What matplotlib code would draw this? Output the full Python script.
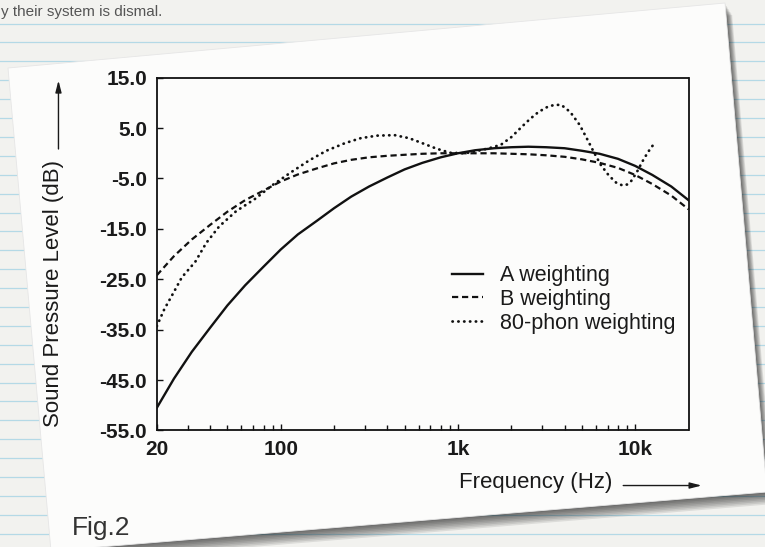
import matplotlib
matplotlib.use("Agg")
import matplotlib.pyplot as plt
from matplotlib.patches import Polygon
from matplotlib.lines import Line2D
from matplotlib.ticker import FixedLocator, FixedFormatter, NullFormatter

plt.rcParams['font.family'] = ['Liberation Sans', 'DejaVu Sans']

# frequencies (Hz) and weighting curves (dB)
freq = [20, 25, 31.5, 40, 50, 63, 80, 100, 125, 160, 200, 250, 315, 400, 500, 630,
        800, 1000, 1250, 1600, 2000, 2500, 3150, 4000, 5000, 6300, 8000, 10000,
        12500, 16000, 20000]
a_weight = [-50.5, -44.7, -39.4, -34.6, -30.2, -26.2, -22.5, -19.1, -16.1, -13.4,
            -10.9, -8.6, -6.6, -4.8, -3.2, -1.9, -0.8, 0.0, 0.6, 1.0, 1.2, 1.3, 1.2,
            1.0, 0.5, -0.1, -1.1, -2.5, -4.3, -6.6, -9.3]
b_weight = [-24.2, -20.4, -17.1, -14.2, -11.6, -9.3, -7.4, -5.6, -4.2, -3.0, -2.0,
            -1.3, -0.8, -0.5, -0.3, -0.1, 0.0, 0.0, 0.0, 0.0, -0.1, -0.2, -0.4, -0.7,
            -1.2, -1.9, -2.9, -4.3, -6.1, -8.4, -11.1]

phon_freq = [20, 22, 24.8, 27.7, 33, 38, 45, 56, 72, 90, 114, 145, 181, 230, 283,
             350, 439, 530, 630, 760, 904, 1100, 1300, 1500, 1750, 2000, 2300, 2550,
             2850, 3200, 3500, 3830, 4300, 4870, 5400, 5850, 6400, 7100, 7800, 8500,
             9000, 9500, 10200, 11000, 11800, 12600]
phon_80 = [-34.3, -31.0, -27.7, -24.6, -21.5, -17.8, -14.5, -11.5, -9.0, -6.3, -3.8,
           -1.4, 0.5, 2.0, 3.0, 3.5, 3.6, 3.0, 2.0, 0.9, 0.1, 0.0, 0.5, 1.0, 1.7, 3.2,
           5.3, 6.8, 8.2, 9.2, 9.6, 9.6, 8.2, 5.6, 2.6, 0.2, -2.3, -4.4, -5.8, -6.4,
           -6.2, -5.5, -3.8, -1.6, 0.2, 1.6]

x_ticks = [20, 100, 1000, 10000]
x_labels = ['20', '100', '1k', '10k']
x_minor = [30, 40, 50, 60, 70, 80, 90, 200, 300, 400, 500, 600, 700, 800, 900,
           2000, 3000, 4000, 5000, 6000, 7000, 8000, 9000]
y_ticks = [15, 5, -5, -15, -25, -35, -45, -55]

fig = plt.figure(figsize=(7.65, 5.47), dpi=100)
fig.patch.set_facecolor('#f2f2ef')
W, H = 765.0, 547.0


def fxy(px, py):
    return (px / W, 1 - py / H)


# notebook paper lines
y = 23.5
while y < H:
    fig.add_artist(Line2D([0, 1], [1 - y / H] * 2, color='#b4d9e6', lw=0.9, zorder=-5))
    y += 18.9

# rotated card with a soft shadow
card = [(8, 68), (725, 3), (767, 492), (51, 551)]
for i in range(8):
    off = 1.5 + i * 1.5
    sh = [fxy(px + off * 0.6, py + off) for px, py in card]
    fig.add_artist(Polygon(sh, closed=True, transform=fig.transFigure,
                           facecolor='black', edgecolor='none', alpha=0.09, zorder=-4))
fig.add_artist(Polygon([fxy(px, py) for px, py in card], closed=True,
                       transform=fig.transFigure, facecolor='#fcfcfb',
                       edgecolor='#e6e6e6', lw=0.6, zorder=-3))

ax = fig.add_axes([0.205, 0.213, 0.695, 0.645])
ax.set_facecolor('none')

ax.plot(freq, a_weight, color='#111111', lw=1.7, label='A weighting')
ax.plot(freq, b_weight, color='#111111', lw=1.6, linestyle=(0, (2.8, 1.7)),
        label='B weighting')
ax.plot(phon_freq, phon_80, color='#111111', lw=2.0, linestyle=(0, (0.1, 2.0)),
        dash_capstyle='round', label='80-phon weighting')

ax.set_xscale('log')
ax.set_xlim(20, 20000)
ax.set_ylim(-55, 15)

ax.xaxis.set_major_locator(FixedLocator(x_ticks))
ax.xaxis.set_major_formatter(FixedFormatter(x_labels))
ax.xaxis.set_minor_locator(FixedLocator(x_minor))
ax.xaxis.set_minor_formatter(NullFormatter())
ax.set_yticks(y_ticks)
ax.set_yticklabels(['%.1f' % v for v in y_ticks])

ax.tick_params(which='both', direction='in', color='#111111', width=1.0)
ax.tick_params(which='major', length=4, labelsize=15, pad=7)
ax.tick_params(which='minor', length=3.5)
for lab in ax.get_xticklabels() + ax.get_yticklabels():
    lab.set_fontweight('bold')
    lab.set_color('#1a1a1a')
for sp in ax.spines.values():
    sp.set_linewidth(1.3)
    sp.set_color('#111111')

ax.text(0.712, -0.147, 'Frequency (Hz)', transform=ax.transAxes, ha='center',
        va='center', fontsize=16, color='#1a1a1a')
ax.annotate('', xy=(1.03, -0.156), xytext=(0.872, -0.156), xycoords='axes fraction',
            arrowprops=dict(arrowstyle='-|>,head_length=0.7,head_width=0.18',
                            color='#1a1a1a', lw=1.0), annotation_clip=False)
ax.text(-0.195, 0.388, 'Sound Pressure Level (dB)', transform=ax.transAxes,
        ha='center', va='center', rotation=90, fontsize=16, color='#1a1a1a')
ax.annotate('', xy=(-0.185, 1.0), xytext=(-0.185, 0.79), xycoords='axes fraction',
            arrowprops=dict(arrowstyle='-|>,head_length=0.7,head_width=0.18',
                            color='#1a1a1a', lw=1.0), annotation_clip=False)

ax.legend(loc='upper left', bbox_to_anchor=(0.556, 0.468), frameon=False,
          fontsize=15.5, handlelength=1.4, handletextpad=0.8, labelspacing=0.12,
          borderpad=0, borderaxespad=0, labelcolor='#1a1a1a')

fig.text(1 / W, 1 - 12 / H, 'y their system is dismal.', ha='left', va='center',
         fontsize=11, color='#555555')
fig.text(72 / W, 1 - 535 / H, 'Fig.2', ha='left', va='baseline', fontsize=19,
         color='#333333')

fig.savefig('out.png', dpi=100)
